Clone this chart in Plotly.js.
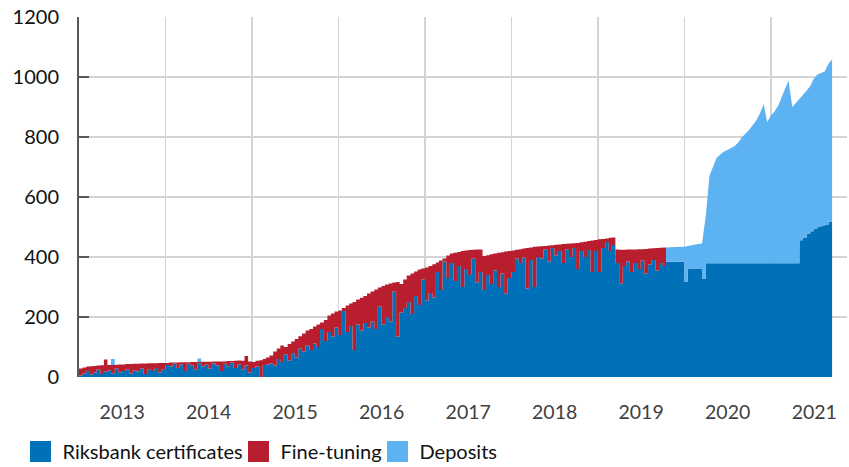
<!DOCTYPE html>
<html>
<head>
<meta charset="utf-8">
<script src="https://cdn.plot.ly/plotly-3.0.1.min.js"></script>
<style>html,body{margin:0;padding:0;background:#fff}#chart{width:849px;height:467px}</style>
</head>
<body>
<div id="chart"></div>
<script>
// Semi-monthly observation calendar (1st and 16th of each month), Jan 2013 - Sep 2021
const dates = [];
for (let y = 2013; y <= 2021; y++) {
  for (let m = 1; m <= 12; m++) {
    for (const d of ['01', '16']) {
      if (dates.length < 210) dates.push(y + '-' + String(m).padStart(2, '0') + '-' + d);
    }
  }
}

const seriesNames = ['Riksbank certificates', 'Fine-tuning', 'Deposits'];
const yTicks = [0, 200, 400, 600, 800, 1000, 1200];

// SEK billion (one row per year)
const certificates = [
  5,12,20,8,15,25,10,18,22,12,28,15,20,25,12,22,18,28,10,24,20,30,15,26,
  40,35,45,30,42,20,44,38,25,46,35,42,28,45,38,20,44,36,48,30,42,25,38,15,
  30,35,0,40,42,45,38,60,50,75,55,80,65,95,85,105,90,112,100,160,120,150,135,165,
  140,220,150,170,90,175,155,180,165,185,160,235,175,200,185,285,135,215,230,250,210,270,240,325,
  255,280,265,350,290,385,330,380,320,370,300,360,340,395,315,350,290,340,310,355,300,345,278,330,
  350,395,380,398,295,390,300,400,395,425,385,430,405,420,380,425,400,430,360,420,400,423,350,420,
  350,430,450,420,440,380,312,370,385,350,380,360,388,345,375,390,355,380,370,384,384,384,384,384,
  317,362,362,362,362,328,379,379,379,379,379,379,379,379,379,379,379,379,379,379,379,379,379,379,
  379,379,379,379,379,379,379,379,456,465,478,486,495,500,505,508,518,522
];

const fineTuning = [
  23,20,15,28,22,13,29,40,18,28,13,27,22,18,31,22,26,17,35,22,26,16,32,21,
  7,13,3,18,7,29,5,12,25,4,16,9,23,7,14,32,8,17,5,24,13,29,32,37,
  20,19,56,20,23,27,47,35,55,25,55,38,62,41,60,50,70,56,75,22,70,55,77,53,
  82,10,88,75,160,83,109,90,113,100,132,63,128,108,127,30,182,95,95,88,135,82,118,37,
  110,90,111,32,98,10,75,32,94,47,120,62,83,29,110,75,113,66,99,57,114,71,140,90,
  72,29,46,30,135,42,134,35,41,12,53,9,36,22,63,19,45,16,87,29,51,30,105,37,
  109,30,12,44,25,45,112,54,40,75,45,66,38,82,53,39,75,51,62,0,0,0,0,0,
  0,0,0,0,0,0,0,0,0,0,0,0,0,0,0,0,0,0,0,0,0,0,0,0,
  0,0,0,0,0,0,0,0,0,0,0,0,0,0,0,0,0,0
];

const deposits = [
  0,0,0,0,0,0,0,0,0,20,0,0,0,0,0,0,0,0,0,0,0,0,0,0,
  0,0,0,0,0,0,0,0,0,12,0,0,0,0,0,0,0,0,0,0,0,0,0,0,
  0,0,0,0,0,0,0,0,0,0,0,0,0,0,0,0,0,0,0,0,0,0,0,0,
  0,0,0,0,0,0,0,0,0,0,0,0,0,0,0,0,0,0,0,0,0,0,0,0,
  0,0,0,0,0,0,0,0,0,0,0,0,0,0,0,0,0,0,0,0,0,0,0,0,
  0,0,0,0,0,0,0,0,0,0,0,0,0,0,0,0,0,0,0,0,0,0,0,0,
  0,0,0,0,0,0,0,0,0,0,0,0,0,0,0,0,0,0,0,48,49,50,50,50,
  117,75,78,80,81,117,161,291,321,351,363,373,378,383,391,403,421,433,445,461,478,501,531,471,
  493,506,526,556,581,609,521,534,469,475,477,484,500,508,507,510,527,536
];

const colors = ['#0070b8', '#b81e2d', '#5db3f2'];
const SPLIT = 163; // first semi-month of the new framework (deposits replace fine-tuning)

const traces = [
  // main stack: certificates + fine-tuning (+ occasional early deposits)
  {type: 'scatter', mode: 'lines', x: dates, y: certificates, stackgroup: 'one',
   line: {width: 0, shape: 'hv'}, fillcolor: colors[0], name: seriesNames[0], showlegend: false, hoverinfo: 'skip'},
  {type: 'scatter', mode: 'lines', x: dates, y: fineTuning, stackgroup: 'one',
   line: {width: 0, shape: 'hv'}, fillcolor: colors[1], name: seriesNames[1], showlegend: false, hoverinfo: 'skip'},
  {type: 'scatter', mode: 'lines', x: dates.slice(0, SPLIT), y: deposits.slice(0, SPLIT), stackgroup: 'one',
   line: {width: 0, shape: 'hv'}, fillcolor: colors[2], name: seriesNames[2], showlegend: false, hoverinfo: 'skip'},
  // later deposits stacked on the certificates
  {type: 'scatter', mode: 'lines', x: dates.slice(SPLIT), y: certificates.slice(SPLIT), stackgroup: 'two',
   line: {width: 0, shape: 'hv'}, fillcolor: 'rgba(0,0,0,0)', name: seriesNames[0], showlegend: false, hoverinfo: 'skip'},
  {type: 'scatter', mode: 'lines', x: dates.slice(SPLIT), y: deposits.slice(SPLIT), stackgroup: 'two',
   line: {width: 0, shape: 'linear'}, fillcolor: colors[2], name: seriesNames[2], showlegend: false, hoverinfo: 'skip'}
];
const legendIds = ['legend', 'legend2', 'legend3'];
seriesNames.forEach((n, k) => {
  traces.push({
    type: 'scatter', mode: 'markers', x: [null], y: [null], name: n, legend: legendIds[k],
    marker: {symbol: 'square', size: 16, color: colors[k], line: {width: 5, color: colors[k]}},
    showlegend: true, hoverinfo: 'skip'
  });
});

const font = 'Lato, "Open Sans", sans-serif';
function legendAt(xpx) {
  return {
    orientation: 'h', itemwidth: 34, xref: 'container', yref: 'container',
    x: xpx / 849, xanchor: 'left', y: 0.033, yanchor: 'middle',
    font: {family: font, size: 20, color: '#111111'}, bgcolor: 'rgba(0,0,0,0)'
  };
}
const layout = {
  width: 849, height: 467,
  margin: {l: 79, r: 2, t: 17, b: 90},
  paper_bgcolor: '#ffffff', plot_bgcolor: '#ffffff',
  showlegend: true,
  xaxis: {
    type: 'date', range: ['2013-01-01', '2021-11-18'],
    tick0: '2013-01-01', dtick: 'M12', tickformat: '%Y', ticklabelmode: 'period',
    showgrid: true, gridcolor: '#d4d4d4', gridwidth: 1.3,
    showline: false, zeroline: false, ticks: '',
    ticklabelstandoff: 21,
    tickfont: {family: font, size: 19.5, color: '#404040'}
  },
  yaxis: {
    range: [0, 1200], tickvals: yTicks, ticktext: yTicks.map(String),
    showgrid: true, gridcolor: '#d4d4d4', gridwidth: 1.3,
    showline: true, linecolor: '#595959', linewidth: 2,
    ticks: 'inside', ticklen: 10, tickwidth: 1.5, tickcolor: '#595959',
    zeroline: false, ticklabelstandoff: 14,
    tickfont: {family: font, size: 20, color: '#111111'}
  },
  yaxis2: {
    range: [0, 1200], tickvals: yTicks, overlaying: 'y', side: 'right',
    showgrid: false, showline: false, zeroline: false, showticklabels: false,
    ticks: 'inside', ticklen: 4, tickwidth: 1.5, tickcolor: '#595959'
  },
  legend: legendAt(18.5),
  legend2: legendAt(236.5),
  legend3: legendAt(375.5)
};

Plotly.newPlot('chart', traces, layout, {displayModeBar: false, staticPlot: true});
</script>
</body>
</html>
